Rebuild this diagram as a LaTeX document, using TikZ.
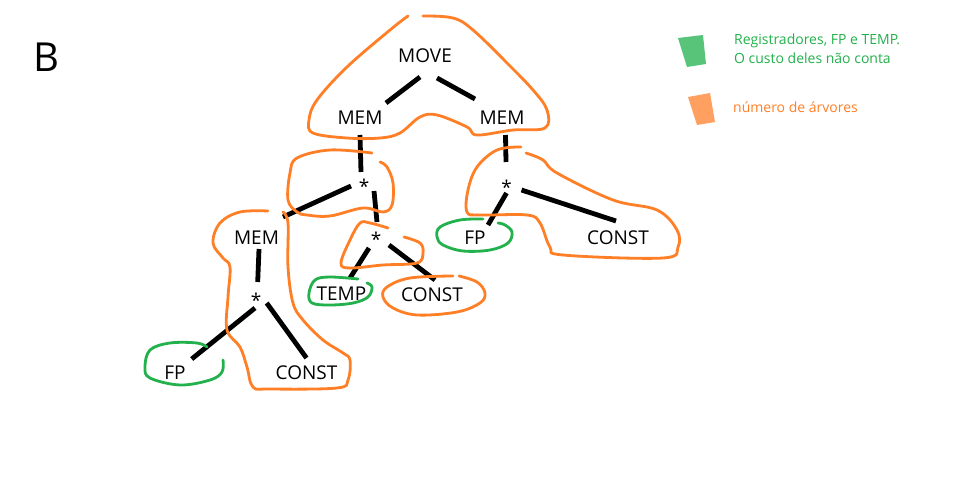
\documentclass[tikz,border=0pt]{standalone}
\usepackage{fontspec}
\setmainfont{Open Sans}
\definecolor{orgline}{RGB}{255,127,39}
\definecolor{grnline}{RGB}{34,177,76}
\definecolor{grnfill}{RGB}{88,196,122}
\definecolor{orgfill}{RGB}{255,160,96}
\begin{document}
\begin{tikzpicture}[x=1pt,y=-1pt,
  lbl/.style={font=\fontsize{19}{21}\selectfont, inner sep=0pt, text height=13.6pt, text depth=0pt},
  star/.style={font=\fontsize{19}{21}\selectfont, inner sep=0pt},
  edge/.style={line width=4.8pt, black},
  orgblob/.style={draw=orgline, line width=2.8pt, line cap=round, line join=round},
  grnblob/.style={draw=grnline, line width=2.8pt, line cap=round, line join=round},
  legtext/.style={font=\fontsize{14}{19}\selectfont, inner sep=0pt, anchor=west, align=left}]
\useasboundingbox (0,0) rectangle (959,484);
\fill[white] (0,0) rectangle (959,484);

% title
\node[font=\fontsize{40}{44}\selectfont, inner sep=0pt] (B) at (46.5,57) {B};

% nodes
\node[lbl] (move) at (425,56) {MOVE};
\node[lbl] (memL) at (360,118) {MEM};
\node[lbl] (memR) at (502,118) {MEM};
\node[star] (s1) at (364,186) {*};
\node[lbl] (memLL) at (256.5,238) {MEM};
\node[star] (s2) at (376,239) {*};
\node[lbl] (temp) at (341.5,294) {TEMP};
\node[lbl] (constM) at (432,295) {CONST};
\node[star] (s3) at (256,300) {*};
\node[lbl] (fpL) at (175,373) {FP};
\node[lbl] (constL) at (306.5,373) {CONST};
\node[star] (s4) at (506.5,187) {*};
\node[lbl] (fpR) at (475,238) {FP};
\node[lbl] (constR) at (618,238) {CONST};

% connectors
\draw[edge] ([shift={(-5,21)}]move.center) -- ([shift={(26,-15)}]memL.center);
\draw[edge] ([shift={(12,22)}]move.center) -- ([shift={(-27,-19)}]memR.center);
\draw[edge] ([shift={(0,17)}]memL.center) -- ([shift={(-3,-14)}]s1.center);
\draw[edge] ([shift={(-13,0)}]s1.center) -- ([shift={(26.5,-21)}]memLL.center);
\draw[edge] ([shift={(10,5)}]s1.center) -- ([shift={(1,-17)}]s2.center);
\draw[edge] ([shift={(-7,9)}]s2.center) -- ([shift={(8.5,-16)}]temp.center);
\draw[edge] ([shift={(13,6)}]s2.center) -- ([shift={(3,-15)}]constM.center);
\draw[edge] ([shift={(2.5,11)}]memLL.center) -- ([shift={(1.7,-18)}]s3.center);
\draw[edge] ([shift={(-1,8)}]s3.center) -- ([shift={(16.7,-14)}]fpL.center);
\draw[edge] ([shift={(10.7,3)}]s3.center) -- ([shift={(0,-15)}]constL.center);
\draw[edge] ([shift={(3.5,17)}]memR.center) -- ([shift={(-0.5,-25)}]s4.center);
\draw[edge] ([shift={(0,6)}]s4.center) -- ([shift={(13,-13)}]fpR.center);
\draw[edge] ([shift={(15,3)}]s4.center) -- ([shift={(-2,-17)}]constR.center);

% orange outlines
\draw[orgblob] plot[smooth, tension=0.6] coordinates {(408,16) (390,30) (347,67) (317,100) (309,120) (313,133) (347,138) (380,138) (400,133) (420,117) (437,115) (467,127) (477,135) (513,130) (545,128) (547,110) (533,90) (507,63) (473,30) (453,18) (423,16)};
\draw[orgblob] plot[smooth, tension=0.6] coordinates {(372,153) (330,150) (297,158) (290,173) (288,200) (297,212) (307,215) (330,216) (363,208) (383,212) (392,205) (393,183) (387,167) (380,162)};
\draw[orgblob] plot[smooth, tension=0.6] coordinates {(521,147) (497,150) (477,167) (468,190) (467,212) (480,215) (527,215) (540,223) (550,247) (563,255) (663,258) (678,247) (677,230) (657,210) (613,200) (557,173) (543,160) (526,153)};
\draw[orgblob] plot[smooth, tension=0.6] coordinates {(268,211) (240,212) (220,223) (213,243) (223,258) (230,267) (228,297) (227,330) (240,347) (247,367) (253,387) (270,389) (337,388) (348,380) (350,360) (343,353) (323,340) (303,320) (293,303) (288,267) (288,223) (283,212)};
\draw[orgblob] plot[smooth, tension=0.6] coordinates {(388,228) (370,223) (360,223) (350,240) (341,263) (350,268) (383,265) (417,263) (423,253) (420,243) (404,237)};
\draw[orgblob] plot[smooth, tension=0.6] coordinates {(453,276) (410,278) (387,287) (383,297) (393,308) (417,315) (457,312) (480,303) (485,293) (477,282) (459,276)};

% green outlines
\draw[grnblob] plot[smooth, tension=0.6] coordinates {(358,279) (330,277) (315,280) (309,293) (312,303) (330,305) (353,303) (368,297) (372,287) (367,283)};
\draw[grnblob] plot[smooth, tension=0.6] coordinates {(207,347) (197,343) (170,343) (150,350) (145,367) (150,378) (180,385) (210,380) (222,372) (223,360)};
\draw[grnblob] plot[smooth, tension=0.6] coordinates {(483,219) (460,220) (440,227) (437,237) (443,245) (463,251) (490,250) (508,243) (512,232) (505,225) (498,223)};

% legend
\fill[grnfill] (678,38) -- (703,35) -- (706,64) -- (687,67) -- cycle;
\fill[orgfill] (688,97) -- (710,93) -- (715,122) -- (697,125) -- cycle;
\node[legtext, text=grnline] (leg1) at (734,48.5) {Registradores, FP e TEMP.\\O custo deles não conta};
\node[legtext, text=orgline] (leg2) at (733,107.5) {número de árvores};
\end{tikzpicture}
\end{document}
